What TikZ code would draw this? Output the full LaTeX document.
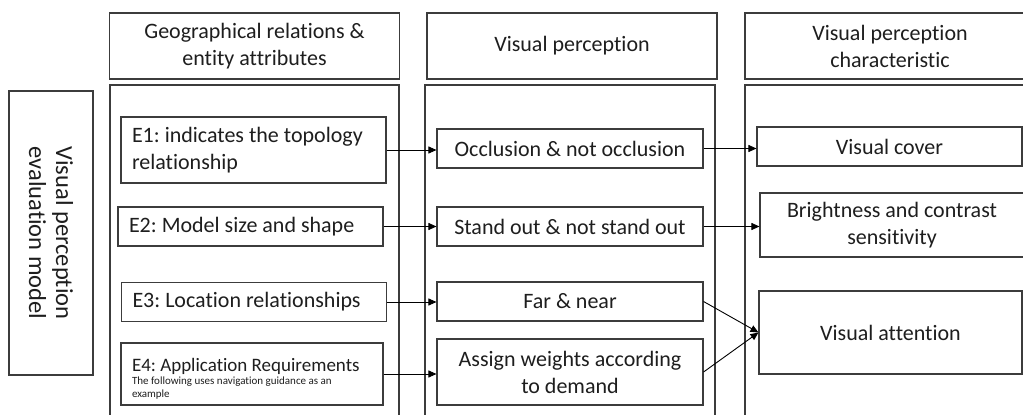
\documentclass[tikz,border=0pt]{standalone}
\usepackage{fontspec}
\setmainfont{Carlito}[Ligatures=NoCommon]
\usetikzlibrary{arrows.meta}
\definecolor{boxgray}{HTML}{3C3C3C}
\definecolor{inkgray}{HTML}{1E1E1E}
\begin{document}
\begin{tikzpicture}[x=1pt,y=-1pt,
  every node/.style={text=inkgray},
  frame/.style={draw=boxgray, line width=1.1pt},
  bigfont/.style={font=\frenchspacing\fontsize{22}{27}\selectfont},
  head/.style={frame, bigfont, minimum width=290pt, minimum height=66pt, align=center, inner sep=0pt},
  lbox/.style={frame, bigfont, align=flush left, inner xsep=11pt, inner ysep=0pt, text width=243pt, minimum height=39pt},
  cbox/.style={frame, bigfont, align=center, inner sep=0pt, minimum width=266pt, minimum height=39pt},
  link/.style={draw=black, line width=0.9pt, -{Triangle[length=8pt,width=7pt]}}
]
\useasboundingbox (0,0) rectangle (1023,415);
\fill[white] (0,0) rectangle (1023,415);

% column headers
\node[head] (h1) at (254.5,46) {Geographical relations \&\\entity attributes};
\node[head] (h2) at (572,46) {Visual perception};
\node[head] (h3) at (890,46) {Visual perception\\characteristic};

% column containers (open at the bottom)
\draw[frame] (110,418) |- (399,85) -- (399,418);
\draw[frame] (425,418) |- (715,85) -- (715,418);
\draw[frame] (745,418) |- (1035,85) -- (1035,418);

% side label
\node[frame, rotate=-90, minimum width=284pt, minimum height=84pt, align=center, inner sep=0pt,
      font=\fontsize{24.5}{27}\selectfont] (side) at (51,233) {Visual perception\\evaluation model};

% entity attributes
\node[lbox, minimum height=66pt] (e1) at (253.5,150) {E1: indicates the topology\\relationship};
\node[lbox] (e2) at (250.5,226.5) {E2: Model size and shape};
\node[lbox] (e3) at (254,302) {E3: Location relationships};
\node[lbox, minimum height=62pt, text width=240pt] (e4) at (252,374)
  {{\fontsize{19}{22}\selectfont\rule{0pt}{23pt}E4: Application Requirements\par}%
   \fontsize{11}{13}\selectfont The following uses navigation guidance as an\newline example\par};

% visual perception
\node[cbox] (o1) at (570,148.5) {Occlusion \& not occlusion};
\node[cbox] (o2) at (570,226.5) {Stand out \& not stand out};
\node[cbox] (o3) at (570,301.5) {Far \& near};
\node[cbox, minimum height=66pt] (o4) at (570,372) {Assign weights according\\to demand};

% perception characteristics
\node[cbox, minimum width=265pt] (v1) at (889.5,146.5) {Visual cover};
\node[cbox, minimum width=264pt, minimum height=64pt] (v2) at (892,225) {Brightness and contrast\\sensitivity};
\node[cbox, minimum width=263pt, minimum height=83pt] (v3) at (890.5,332.5) {Visual attention};

% connectors
\draw[link] (e1.east) -- (e1.east -| o1.west);
\draw[link] (e2.east) -- (e2.east -| o2.west);
\draw[link] (e3.east) -- (e3.east -| o3.west);
\draw[link] (e4.east) -- (e4.east -| o4.west);
\draw[link] (o1.east) -- (o1.east -| v1.west);
\draw[link] (o2.east) -- (o2.east -| v2.west);
\draw[link] (o3.east) -- (v3.west);
\draw[link] (o4.east) -- (v3.west);
\end{tikzpicture}
\end{document}
